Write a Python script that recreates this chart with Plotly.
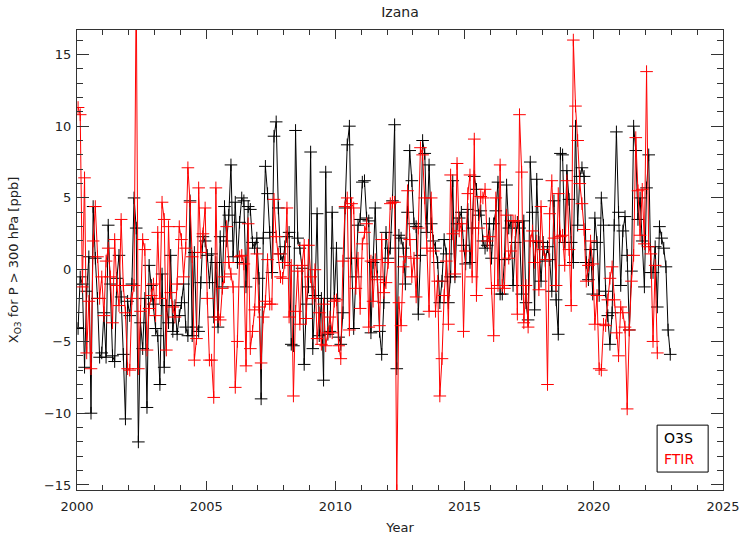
import plotly.graph_objects as go

# Monthly anomalies, one row per year (Jan..Dec)
first_year = 2000
o3s_values = [
    [-4.1, -0.5, -1.0, -6.8, -1.5, 0.9, -10.0, 4.4, 0.8, -2.0, -6.1, -5.8],   # 2000
    [-3.0, -6.1, 3.1, -1.0, -6.0, -6.4, -0.6, 1.0, -1.9, -5.9, -10.4, -2.2],  # 2001
    [-3.2, -1.0, 5.0, 2.9, -12.0, -3.7, -5.5, -2.0, -9.6, 0.3, -1.1, -2.4],   # 2002
    [-4.1, -4.6, -8.0, -0.3, -6.8, -2.5, -3.7, 1.0, -4.3, -2.5, -4.5, -3.2],  # 2003
    [-2.3, -1.0, -4.0, -4.6, 4.8, -4.6, 1.2, -4.0, -4.3, -0.9, 2.3, 2.0],     # 2004
    [1.0, -0.9, 1.1, -3.3, 0.5, -4.0, 2.3, -1.2, 4.4, 2.0, 3.8, 7.3],         # 2005
    [0.9, 4.7, 0.5, 3.3, 5.0, 4.8, -1.2, 4.4, 4.2, 1.9, 1.5, 2.2],            # 2006
    [-0.6, -9.0, 2.2, 7.2, 5.3, 2.6, -0.2, 9.3, 10.3, 4.3, 1.1, 0.5],         # 2007
    [1.6, 2.3, 2.6, -5.2, -5.3, 9.7, 2.2, 1.5, 0.1, -6.6, -2.4, -1.2],        # 2008
    [8.2, -5.5, -1.8, 3.9, -4.6, -2.0, -7.7, 6.8, -4.5, -4.3, 4.0, -2.0],     # 2009
    [1.5, -4.7, -5.2, -3.0, 4.3, 8.7, 10.0, 0.8, -4.1, -0.5, 3.1, 3.5],       # 2010
    [6.1, 6.2, 3.6, 3.4, -4.4, 0.5, 4.3, -0.5, -4.3, -5.9, -2.3, 2.6],        # 2011
    [0.8, 1.5, 4.8, 10.1, -6.9, 2.4, 2.2, 1.5, -1.0, 4.0, 8.3, 6.2],          # 2012
    [3.2, 3.0, -3.1, 1.0, 9.0, 8.1, 2.6, 7.3, 3.2, 2.0, 1.5, 0.5],            # 2013
    [-2.3, -0.8, 2.1, 1.1, -2.3, -0.5, 6.2, -0.5, 3.2, 3.6, 4.0, 1.7],        # 2014
    [0.4, 4.2, 0.5, 2.9, 6.5, 5.6, 3.8, 4.1, 2.0, 1.5, 1.7, 3.2],             # 2015
    [0.8, 3.2, 4.1, 6.1, -1.7, -1.7, 0.7, 5.9, 2.9, 3.4, -1.1, 1.9],          # 2016
    [3.3, 2.9, -1.7, 3.4, -2.3, -3.5, 7.5, 4.0, -2.8, 6.3, 1.9, -0.8],        # 2017
    [1.9, 0.6, 1.6, 0.7, -1.5, 4.8, -2.1, -4.5, 8.1, 8.0, 1.9, 6.9],          # 2018
    [4.9, 1.9, 0.5, 10.0, 3.1, 6.5, 7.1, 6.5, 0.5, -0.7, 1.4, -1.7],          # 2019
    [3.6, 1.9, -1.8, 5.0, 3.1, -1.5, -3.2, -5.2, -3.0, 3.1, 9.6, 4.0],        # 2020
    [-1.1, 2.7, 3.7, 1.0, -4.2, -0.1, 10.0, 8.3, 3.5, 5.0, 2.0, -1.2],        # 2021
    [5.7, 8.0, -0.2, -0.2, 1.6, -2.6, 3.0, 2.2, 1.5, 0.2, -4.2, -5.9],        # 2022
]

ftir_values = [
    [11.3, 10.8, -1.2, 6.4, -5.8, -2.2, -6.9, 2.0, 4.4, 0.9, -2.0, -0.5],     # 2000
    [-3.2, 0.6, 1.5, -0.5, -3.7, 2.1, -1.1, -2.5, 3.5, -1.1, -3.0, -6.9],     # 2001
    [-7.0, -2.0, -1.1, 20.0, -6.9, -2.9, 2.1, 1.4, -5.6, -2.7, -1.8, -1.0],   # 2002
    [-3.2, 2.6, -2.0, 4.7, 3.5, -5.6, 3.0, -1.6, -2.6, -3.3, -1.0, 3.0],      # 2003
    [2.1, -0.5, 1.5, 7.1, 4.7, 0.9, -6.3, -4.8, 5.7, 1.2, 2.5, 4.3],          # 2004
    [-2.0, -6.3, -6.3, -8.9, 5.7, -3.3, -3.5, -1.3, -0.5, 3.0, 0.5, -0.3],    # 2005
    [-1.2, -8.2, -5.0, 0.9, 1.0, 0.4, -6.7, 3.2, -5.5, -4.3, -2.8, 1.1],      # 2006
    [-2.6, -6.5, -3.3, -2.2, 0.7, -2.4, -2.4, 4.9, 2.3, 1.1, -0.5, -0.6],     # 2007
    [0.5, 4.3, -3.3, 0.3, -8.8, -2.9, -0.1, -3.8, 0.3, 1.7, -3.4, 1.7],       # 2008
    [-0.5, -2.0, 0.0, -4.8, -3.0, -5.2, -2.4, -5.3, -4.4, -3.3, -4.4, -2.2],  # 2009
    [-2.1, -5.3, -6.2, 0.6, 4.4, 5.0, -4.2, 4.6, 4.3, -1.3, 0.8, -2.7],       # 2010
    [1.8, 2.6, 3.2, -4.0, 0.6, -2.2, 0.7, -0.7, -3.9, 2.1, -1.6, -0.9],       # 2011
    [0.5, 4.6, 4.7, 4.7, -15.4, -2.3, -3.9, 0.2, 0.9, 5.5, 2.1, -0.5],        # 2012
    [0.8, -1.9, 2.9, 8.5, 8.0, 5.0, 1.5, -2.9, 5.0, 1.3, -2.9, -0.8],         # 2013
    [-8.8, -6.2, -1.8, 0.6, -3.8, 6.6, 2.5, -0.3, 7.4, 2.7, 3.2, -4.3],       # 2014
    [1.3, 5.3, 6.6, -0.5, 9.1, -1.8, 2.9, 5.1, 5.0, 5.6, 2.0, 2.3],           # 2015
    [-1.3, -4.6, 5.0, -1.1, 7.3, -1.1, -1.3, 3.8, 0.8, 1.3, 3.4, 3.4],        # 2016
    [-3.1, 10.8, 6.8, -3.7, -1.1, -4.0, 2.0, 2.7, 0.5, 2.0, -1.4, 4.4],       # 2017
    [1.4, 0.7, -8.0, 3.9, 6.2, 2.2, -1.1, 5.3, 2.3, 2.4, 0.3, 6.2],           # 2018
    [1.4, -2.5, 16.0, 11.4, 9.0, 6.0, 4.6, 2.8, -0.8, 0.3, 2.0, 0.4],         # 2019
    [-3.8, -1.8, -6.9, -7.0, -3.8, -3.9, -2.1, -0.6, 0.2, -2.1, -4.4, -6.0],  # 2020
    [-2.6, -3.0, -4.0, -9.7, -4.2, -0.8, 1.0, 9.2, 5.5, 2.4, 5.6, 1.8],       # 2021
    [13.8, 1.6, 1.1, -5.0, 0.3, -5.8],                                        # 2022
]

x_ticks = [2000, 2005, 2010, 2015, 2020, 2025]
y_ticks = [-15, -10, -5, 0, 5, 10, 15]


def flatten(rows):
    t, v = [], []
    for yi, row in enumerate(rows):
        for m, val in enumerate(row):
            t.append(first_year + yi + (m + 0.5) / 12.0)
            v.append(val)
    return t, v


o3s_t, o3s_v = flatten(o3s_values)
ftir_t, ftir_v = flatten(ftir_values)

FONT = "DejaVu Sans"
TXT = "#222"

fig = go.Figure()
fig.add_trace(go.Scatter(
    x=o3s_t, y=o3s_v, mode="lines+markers", name="O3S",
    line=dict(color="black", width=1),
    marker=dict(symbol="cross-thin", size=9, line=dict(color="black", width=1), color="black"),
))
fig.add_trace(go.Scatter(
    x=ftir_t, y=ftir_v, mode="lines+markers", name="FTIR",
    line=dict(color="red", width=1),
    marker=dict(symbol="cross-thin", size=9, line=dict(color="red", width=1), color="red"),
))

axis_common = dict(
    showgrid=False, zeroline=False, showline=True, linecolor="#333", linewidth=1,
    mirror="allticks", ticks="inside", tickcolor="#333", automargin=False,
    tickfont=dict(family=FONT, size=13, color=TXT),
)

fig.update_xaxes(
    range=[2000, 2025], tickvals=x_ticks, ticklen=9, ticklabelstandoff=4,
    minor=dict(ticks="inside", dtick=1, ticklen=5, tickcolor="#333"),
    title=dict(text="Year", font=dict(family=FONT, size=13, color=TXT), standoff=10),
    **axis_common,
)
fig.update_yaxes(
    range=[-15.35, 16.7], tickvals=y_ticks, ticklen=12, ticklabelstandoff=2,
    minor=dict(ticks="inside", dtick=1, ticklen=6, tickcolor="#333"),
    title=dict(text="X<sub>O3</sub> for P > 300 hPa [ppb]", font=dict(family=FONT, size=13, color=TXT), standoff=22),
    **axis_common,
)

fig.update_layout(
    width=743, height=538,
    margin=dict(l=77, r=20, t=30, b=48, autoexpand=False),
    paper_bgcolor="white", plot_bgcolor="white",
    showlegend=False,
    title=dict(text="Izana", x=0.5, xref="paper", y=1 - 12 / 538, yref="container",
               yanchor="middle", font=dict(family=FONT, size=14, color=TXT)),
)

# legend box
fig.add_shape(type="rect", xref="paper", yref="paper",
              x0=0.898, x1=0.977, y0=0.039, y1=0.141,
              line=dict(color="black", width=1), fillcolor="white", layer="above")
fig.add_annotation(text="O3S", xref="paper", yref="paper", x=0.906, y=0.113,
                   xanchor="left", yanchor="middle", showarrow=False,
                   font=dict(family=FONT, size=14, color="black"))
fig.add_annotation(text="FTIR", xref="paper", yref="paper", x=0.906, y=0.067,
                   xanchor="left", yanchor="middle", showarrow=False,
                   font=dict(family=FONT, size=14, color="red"))

fig.write_html(
    "out.html",
    config={"displayModeBar": False},
    post_script="document.body.style.margin='0';document.body.style.padding='0';",
)
